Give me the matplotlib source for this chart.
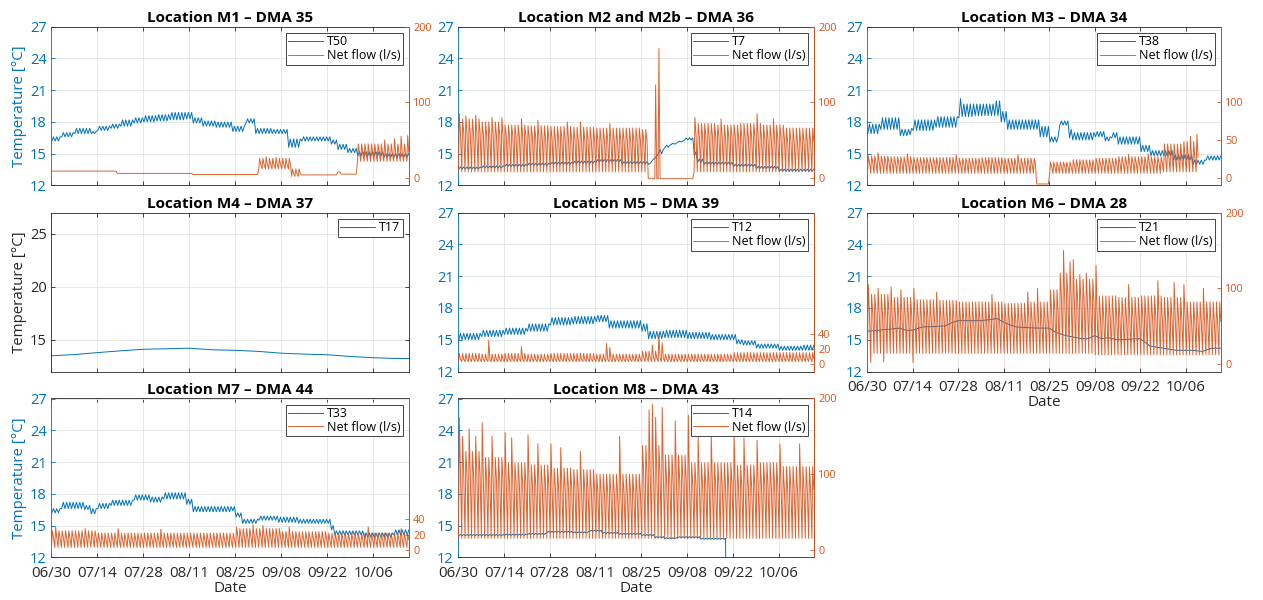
import numpy as np
import matplotlib
matplotlib.use("Agg")
import matplotlib.pyplot as plt
import matplotlib.dates as mdates
from datetime import datetime

plt.rcParams['font.family'] = ['Open Sans', 'DejaVu Sans']

BLUE = '#0072BD'
ORANGE = '#D95319'
DARK = '#262626'
START = mdates.date2num(datetime(2019, 6, 30))
XEND = 108.8

titles = ["Location M1 \u2013 DMA 35", "Location M2 and M2b \u2013 DMA 36",
          "Location M3 \u2013 DMA 34", "Location M4 \u2013 DMA 37",
          "Location M5 \u2013 DMA 39", "Location M6 \u2013 DMA 28",
          "Location M7 \u2013 DMA 44", "Location M8 \u2013 DMA 43"]
sensors = ["T50", "T7", "T38", "T17", "T12", "T21", "T33", "T14"]
flow_label = "Net flow (l/s)"

# temperature read per run of days: (days, daily low, daily high)
t50 = [(3, 16.2, 16.6), (4, 16.6, 17.0), (5, 16.9, 17.4), (2, 16.9, 17.1), (4, 17.2, 17.6),
       (3, 17.4, 17.8), (4, 17.6, 18.2), (3, 17.9, 18.4), (4, 18.0, 18.6), (4, 18.1, 18.7),
       (5, 18.2, 18.9), (2, 18.3, 18.9), (3, 17.9, 18.4), (4, 17.6, 18.1), (5, 17.5, 18.0),
       (4, 17.1, 17.6), (3, 17.9, 18.3), (5, 16.9, 17.4), (5, 16.9, 17.3), (4, 15.6, 16.4),
       (9, 16.2, 16.6), (2, 15.9, 16.3), (3, 15.4, 15.9), (3, 15.1, 15.5), (8, 14.8, 15.2),
       (8, 14.7, 15.0)]
t7 = [(7, 13.55, 13.75), (7, 13.65, 13.85), (7, 13.8, 14.0), (7, 13.9, 14.1), (7, 14.0, 14.2),
      (7, 14.1, 14.3), (8, 14.25, 14.45), (8, 14.05, 14.25), (1, 14.0, 14.1), (1, 14.3, 14.5),
      (1, 14.6, 14.8), (2, 15.0, 15.4), (2, 15.6, 15.8), (2, 15.9, 16.0), (2, 16.1, 16.2),
      (3, 16.3, 16.5), (1, 14.8, 15.2), (2, 14.2, 14.5), (9, 14.0, 14.2), (7, 13.8, 14.0),
      (7, 13.6, 13.8), (11, 13.35, 13.55)]
t38 = [(4, 16.9, 17.8), (6, 17.3, 18.4), (3, 16.7, 17.3), (1, 16.8, 17.4), (7, 17.2, 18.2),
       (7, 17.5, 18.5), (1, 18.4, 20.2), (4, 18.5, 19.7), (6, 18.6, 19.7), (2, 18.6, 20.0),
       (2, 18.0, 19.0), (10, 17.3, 18.2), (3, 16.6, 17.6), (3, 16.1, 16.6), (3, 17.7, 18.1),
       (1, 16.5, 17.3), (7, 16.3, 17.0), (3, 16.6, 17.1), (2, 16.2, 16.6), (2, 16.5, 17.0),
       (7, 15.9, 16.6), (3, 15.2, 15.8), (7, 14.8, 15.3), (6, 14.4, 14.9), (4, 14.0, 14.4),
       (5, 14.4, 14.8)]
t12 = [(7, 15.0, 15.6), (7, 15.3, 15.9), (7, 15.5, 16.1), (7, 15.8, 16.5), (7, 16.4, 17.1),
       (7, 16.5, 17.2), (4, 16.7, 17.3), (10, 16.1, 16.8), (2, 15.8, 16.5), (5, 15.1, 15.8),
       (7, 15.2, 15.9), (7, 15.1, 15.7), (8, 15.0, 15.5), (2, 14.6, 15.0), (4, 14.5, 14.9),
       (7, 14.2, 14.6), (7, 14.0, 14.4), (4, 14.0, 14.5)]
t33 = [(3, 16.2, 16.6), (7, 16.6, 17.2), (2, 16.5, 16.9), (2, 16.1, 16.6), (4, 16.6, 17.1),
       (7, 16.9, 17.4), (5, 17.4, 17.9), (4, 17.2, 17.7), (7, 17.5, 18.1), (2, 17.0, 17.5),
       (12, 16.3, 16.8), (1, 16.4, 16.8), (2, 15.8, 16.2), (5, 15.2, 15.6), (6, 15.5, 15.9),
       (6, 15.3, 15.8), (10, 15.2, 15.6), (1, 14.6, 15.0), (9, 14.1, 14.5), (9, 13.9, 14.3),
       (5, 14.1, 14.6)]
t14 = [(14, 14.05, 14.15), (7, 14.08, 14.18), (6, 14.15, 14.25), (8, 14.35, 14.45),
       (5, 14.3, 14.4), (4, 14.45, 14.55), (5, 14.25, 14.35), (7, 14.15, 14.25),
       (4, 14.05, 14.15), (3, 13.85, 13.95), (4, 13.75, 13.85), (7, 13.85, 13.95),
       (8, 13.7, 13.8), (1, 0.0, 0.0)]

# smooth sensors: (day, value)
t17_day = [0, 7, 14, 21, 28, 35, 42, 49, 56, 63, 70, 77, 84, 91, 98, 105, 109]
t17_val = [13.48, 13.6, 13.78, 13.95, 14.1, 14.15, 14.2, 14.05, 14.0, 13.9, 13.73, 13.64,
           13.58, 13.42, 13.3, 13.23, 13.23]
t21_day = [0, 7, 10, 12, 14, 17, 24, 26, 28, 35, 40, 43, 46, 52, 56, 58, 61, 66, 68, 70,
           72, 74, 77, 84, 87, 91, 95, 100, 103, 106, 109]
t21_val = [15.8, 16.0, 16.1, 15.9, 15.9, 16.2, 16.3, 16.6, 16.8, 16.8, 17.0, 16.5, 16.2,
           16.1, 16.1, 15.7, 15.4, 15.1, 15.1, 15.4, 15.1, 15.2, 15.0, 15.1, 14.4, 14.2,
           14.0, 14.0, 13.9, 14.2, 14.2]

# net flow per run of days: (days, night low, day level, day high)
q1 = [(20, 9, 9, 9), (23, 6, 6, 6), (20, 4.5, 4.5, 4.5), (10, 12, 18, 26), (3, 2, 6, 12),
      (11, 4, 4, 4), (1, 8, 8, 8), (5, 5, 5, 5), (16, 22, 33, 45)]
q1_peaks = [(65, 28), (68, 27), (101, 50), (104, 52), (106, 55), (108, 56)]
q2 = [(7, 8, 60, 78), (7, 8, 57, 74), (7, 8, 55, 70), (7, 8, 53, 69), (7, 8, 52, 68),
      (7, 8, 50, 67), (7, 8, 50, 66), (7, 8, 50, 66), (2, 8, 50, 64), (14, -1, -1, -1),
      (7, 8, 56, 72), (7, 8, 54, 70), (7, 8, 53, 72), (7, 8, 52, 70), (9, 8, 48, 66)]
q2_peaks = [(0, 85), (2, 82), (5, 83), (10, 80), (13, 80), (19, 78), (24, 76), (33, 74),
            (37, 74), (46, 72), (60, 123), (61, 171), (72, 80), (80, 78), (91, 85), (96, 78)]
q3 = [(7, 6, 21, 29), (7, 6, 20, 28), (7, 6, 20, 27), (7, 6, 19, 27), (7, 6, 19, 26),
      (7, 6, 19, 27), (7, 6, 18, 26), (3, 6, 18, 26), (4, -8, -8, -8), (7, 6, 15, 21),
      (7, 6, 17, 24), (7, 6, 19, 26), (7, 6, 20, 28), (7, 6, 20, 28), (6, 8, 28, 45),
      (5, 8, 28, 48)]
q3_peaks = [(3, 33), (12, 32), (27, 31), (46, 31), (80, 31), (86, 32), (99, 55), (101, 58),
            (103, 52), (105, 66), (107, 62)]
q5 = [(7, 3, 6, 14), (7, 3, 6, 13), (7, 3, 6, 14), (7, 3, 6, 13), (7, 3, 6, 14),
      (7, 3, 6, 14), (7, 3, 6, 13), (7, 3, 6, 13), (7, 3, 8, 17), (7, 3, 6, 13),
      (14, 3, 6, 13), (14, 3, 7, 15), (11, 3, 7, 15)]
q5_peaks = [(9, 31), (19, 23), (45, 27), (46, 22), (59, 25), (61, 39), (62, 28)]
q6 = [(7, 14, 68, 92), (7, 14, 64, 88), (7, 14, 60, 85), (7, 14, 58, 84), (7, 14, 57, 82),
      (7, 14, 56, 82), (7, 14, 56, 80), (7, 14, 56, 82), (3, 14, 68, 98), (4, 14, 88, 120),
      (7, 14, 82, 112), (7, 12, 62, 90), (7, 12, 60, 88), (7, 12, 62, 90), (7, 12, 60, 88),
      (11, 12, 56, 82)]
q6_peaks = [(0, 105), (3, 100), (7, 102), (10, 98), (14, 100), (21, 95), (38, 92), (49, 95),
            (52, 100), (60, 150), (62, 135), (63, 138), (65, 118), (67, 120), (70, 130),
            (80, 105), (89, 110), (94, 108), (97, 105), (103, 100)]
q6_dips = [(1, 2), (5, 3), (14, 2)]
q7 = [(14, 3, 16, 25), (42, 3, 13, 22), (14, 3, 18, 28), (14, 3, 15, 24), (25, 3, 13, 22)]
q7_peaks = [(1, 30), (10, 28), (20, 28), (33, 27), (56, 30), (61, 33), (64, 32), (72, 30),
            (96, 30), (106, 28)]
q8 = [(7, 15, 100, 130), (7, 15, 92, 122), (7, 15, 88, 115), (7, 15, 86, 112),
      (7, 15, 82, 108), (7, 15, 80, 106), (7, 15, 76, 100), (7, 15, 75, 100),
      (7, 15, 100, 138), (7, 15, 92, 125), (7, 15, 85, 115), (7, 15, 85, 115),
      (7, 15, 82, 112), (7, 15, 85, 115), (11, 15, 80, 110)]
q8_peaks = [(0, 175), (1, 150), (3, 160), (5, 150), (7, 168), (10, 150), (14, 155), (16, 148),
            (21, 152), (24, 140), (28, 140), (31, 135), (37, 130), (49, 150), (58, 185),
            (59, 192), (60, 175), (62, 188), (66, 170), (70, 178), (73, 150), (77, 152),
            (84, 150), (87, 148), (91, 145), (98, 140), (104, 140)]


def temp_line(segs):
    x, y = [], []
    d = 0
    for n, lo, hi in segs:
        for k in range(n):
            x += [d + k + 0.25, d + k + 0.75]
            y += [lo, hi]
        d += n
    return START + np.array(x), np.array(y)


def smooth_line(days, vals):
    return START + np.array(days, dtype=float), np.array(vals)


def flow_line(segs, peaks=(), dips=()):
    # each day: night low, morning high, day level
    pk = dict(peaks)
    dp = dict(dips)
    x, y = [], []
    d = 0
    for n, lo, mid, hi in segs:
        for k in range(n):
            day = d + k
            x += [day + 0.15, day + 0.4, day + 0.75]
            y += [dp.get(day, lo), pk.get(day, hi), mid]
        d += n
    return START + np.array(x), np.array(y)


fig = plt.figure(figsize=(12.63, 6.0), dpi=100)
W, H = 1263.0, 600.0
col_left = [51, 458, 867]
col_w = [358, 356, 354]
row_top = [26.7, 212.7, 398.5]
row_h = 158.8


def panel(r, c, title, tname, temp, flow=None, rticks=None, ylabel=False,
          xlabels=False, yticks=(12, 15, 18, 21, 24, 27)):
    rect = [col_left[c] / W, 1 - (row_top[r] + row_h) / H, col_w[c] / W, row_h / H]
    ax = fig.add_axes(rect)
    lcol = BLUE if flow is not None else DARK
    l1, = ax.plot(*temp, color=BLUE, lw=0.7, label=tname)
    ax.set_xlim(START, START + XEND)
    ax.set_ylim(12, 27)
    ax.set_yticks(yticks)
    ax.set_xticks(START + np.arange(0, 99, 14))
    ax.xaxis.set_major_formatter(mdates.DateFormatter('%m/%d'))
    ax.grid(True, color='#e3e3e3', lw=0.6)
    ax.set_axisbelow(True)
    ax.tick_params(direction='in', length=3, width=0.6, top=True, right=(flow is None),
                   colors=DARK)
    ax.tick_params(axis='x', labelsize=10.8, pad=6)
    ax.tick_params(axis='y', labelsize=10.5, labelcolor=lcol, color=lcol, pad=3)
    for s in ax.spines.values():
        s.set_color(DARK)
        s.set_linewidth(0.6)
    ax.spines['left'].set_color(lcol)
    if not xlabels:
        ax.tick_params(labelbottom=False)
    else:
        ax.set_xlabel("Date", fontsize=11, color=DARK, labelpad=0)
    if ylabel:
        ax.set_ylabel("Temperature [\u00b0C]", fontsize=10.8, color=lcol, labelpad=2)
    ax.set_title(title, fontsize=11, fontweight='bold', color='black', pad=3.5)
    handles = [l1]
    top = ax
    if flow is not None:
        ax2 = ax.twinx()
        l2, = ax2.plot(*flow, color=ORANGE, lw=0.7, alpha=0.9, label=flow_label)
        ax2.set_ylim(-10, 200)
        ax2.set_yticks(rticks)
        ax2.tick_params(direction='in', length=3, width=0.6, labelsize=7.8,
                        colors=ORANGE, pad=3)
        for s in ax2.spines.values():
            s.set_visible(False)
        ax2.spines['right'].set_visible(True)
        ax2.spines['right'].set_color(ORANGE)
        ax2.spines['right'].set_linewidth(0.6)
        handles.append(l2)
        top = ax2
    leg = top.legend(handles=handles, loc='upper right', fontsize=9, frameon=True,
                     fancybox=False, framealpha=1, edgecolor=DARK, borderpad=0.2,
                     labelspacing=0.05, handlelength=2.8, handletextpad=0.3,
                     borderaxespad=0.5)
    leg.get_frame().set_linewidth(0.6)
    return ax


panel(0, 0, titles[0], sensors[0], temp_line(t50), flow_line(q1, q1_peaks), [0, 100, 200],
      ylabel=True)
panel(0, 1, titles[1], sensors[1], temp_line(t7), flow_line(q2, q2_peaks), [0, 100, 200])
panel(0, 2, titles[2], sensors[2], temp_line(t38), flow_line(q3, q3_peaks), [0, 50, 100])
panel(1, 0, titles[3], sensors[3], smooth_line(t17_day, t17_val), ylabel=True,
      yticks=(15, 20, 25))
panel(1, 1, titles[4], sensors[4], temp_line(t12), flow_line(q5, q5_peaks), [0, 20, 40])
panel(1, 2, titles[5], sensors[5], smooth_line(t21_day, t21_val),
      flow_line(q6, q6_peaks, q6_dips), [0, 100, 200], xlabels=True)
panel(2, 0, titles[6], sensors[6], temp_line(t33), flow_line(q7, q7_peaks), [0, 20, 40],
      ylabel=True, xlabels=True)
panel(2, 1, titles[7], sensors[7], temp_line(t14), flow_line(q8, q8_peaks), [0, 100, 200],
      xlabels=True)

fig.savefig("out.png", dpi=100)
